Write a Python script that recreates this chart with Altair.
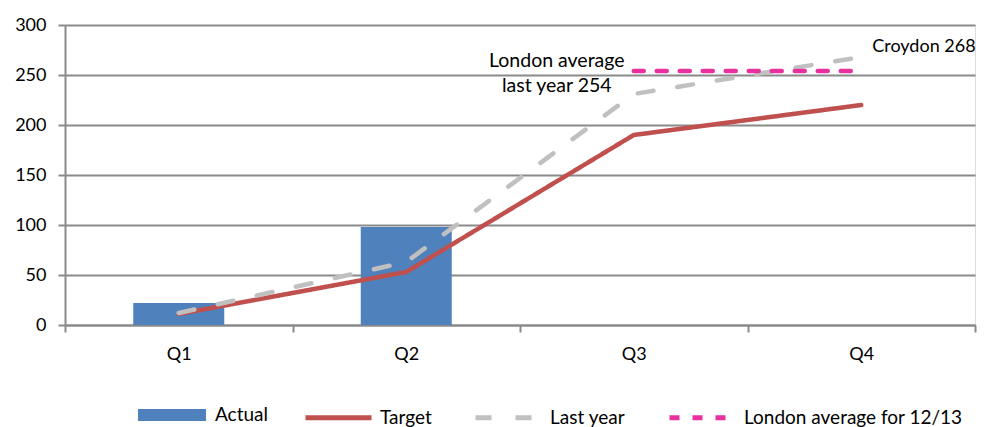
import altair as alt
import pandas as pd

quarters = ["Q1", "Q2", "Q3", "Q4"]
actual = [22, 98, None, None]
target = [11, 53, 190, 220]
last_year = [12, 63, 231, 268]
london_avg = [None, None, 254, 254]

bar_names = ["Actual"]
bar_colors = ["#4F81BD"]
line_names = ["Target", "Last year", "London average for 12/13"]
line_colors = ["#C0504D", "#C0C0C0", "#E8309F"]
line_dashes = [[1, 0], [16, 24], [10, 13]]

ann_london_text = "London average\nlast year 254"
ann_london_value = 254
ann_croydon_text = "Croydon 268"
ann_croydon_value = 268

FONT = "Lato"
GRID = "#8a8a8a"

def frame(values, name):
    rows = [{"quarter": q, "value": v, "series": name} for q, v in zip(quarters, values) if v is not None]
    return pd.DataFrame(rows)

bars_df = frame(actual, "Actual")
lines_df = pd.concat([
    frame(target, "Target"),
    frame(last_year, "Last year"),
    frame(london_avg, "London average for 12/13"),
], ignore_index=True)

legend_common = dict(
    title=None,
    orient="none",
    direction="horizontal",
    labelFont=FONT,
    labelFontSize=19,
    labelColor="#000000",
    labelLimit=400,
    symbolOpacity=1,
)
bar_legend = alt.Legend(
    legendX=73, legendY=356,
    symbolType="M-1,-0.18H1V0.18H-1Z",
    symbolSize=4624,
    symbolStrokeWidth=0,
    labelOffset=9,
    **legend_common,
)
line_legend = alt.Legend(
    legendX=238, legendY=357,
    symbolType="stroke",
    symbolSize=4356,
    symbolStrokeWidth=5,
    labelOffset=6,
    columnPadding=33,
    **legend_common,
)

x_enc = alt.X(
    "quarter:N",
    scale=alt.Scale(domain=quarters, paddingInner=0, paddingOuter=0),
    axis=alt.Axis(
        title=None, labelAngle=0, tickBand="extent",
        labelFont=FONT, labelFontSize=18, labelColor="#000000", labelPadding=13,
        domainColor=GRID, domainWidth=2, tickColor=GRID, tickWidth=2, tickSize=7, grid=False,
    ),
)
y_enc = alt.Y(
    "value:Q",
    scale=alt.Scale(domain=[0, 300], nice=False),
    axis=alt.Axis(
        title=None, values=[0, 50, 100, 150, 200, 250, 300],
        labelFont=FONT, labelFontSize=18, labelColor="#000000", labelPadding=12,
        domainColor=GRID, domainWidth=2, tickColor=GRID, tickWidth=2, tickSize=7,
        grid=True, gridColor=GRID, gridWidth=2,
    ),
)

bars = alt.Chart(bars_df).mark_bar(width={"band": 0.4}).encode(
    x=x_enc, y=y_enc,
    color=alt.Color("series:N", scale=alt.Scale(domain=bar_names, range=bar_colors), legend=bar_legend),
)
lines = alt.Chart(lines_df).mark_line(strokeCap="round", strokeJoin="round", strokeWidth=4.5).encode(
    x=x_enc,
    y=y_enc,
    color=alt.Color("series:N", scale=alt.Scale(domain=line_names, range=line_colors), legend=line_legend),
    strokeDash=alt.StrokeDash("series:N", scale=alt.Scale(domain=line_names, range=line_dashes), legend=line_legend),
)

london_ann = alt.Chart(pd.DataFrame({"quarter": ["Q3"], "value": [ann_london_value], "label": [ann_london_text]})).mark_text(
    font=FONT, fontSize=19.5, color="#000000", align="center", baseline="middle", dx=-77, dy=-10,
    lineBreak="\n", lineHeight=25,
).encode(x=x_enc, y=y_enc, text="label:N")

croydon_ann = alt.Chart(pd.DataFrame({"quarter": ["Q4"], "value": [ann_croydon_value], "label": [ann_croydon_text]})).mark_text(
    font=FONT, fontSize=18, color="#000000", align="left", baseline="middle", dx=11, dy=-10,
).encode(x=x_enc, y=y_enc, text="label:N")

chart = (
    alt.layer(bars, lines, london_ann, croydon_ann)
    .resolve_scale(color="independent", strokeDash="independent")
    .properties(
        width=910,
        height=300,
        autosize=alt.AutoSizeParams(type="none"),
        padding={"left": 57, "top": 17, "right": 5, "bottom": 102},
    )
    .configure_view(stroke=None)
    .configure(background="#ffffff")
)

chart.save("out.html", embed_options={"renderer": "svg", "actions": False})
